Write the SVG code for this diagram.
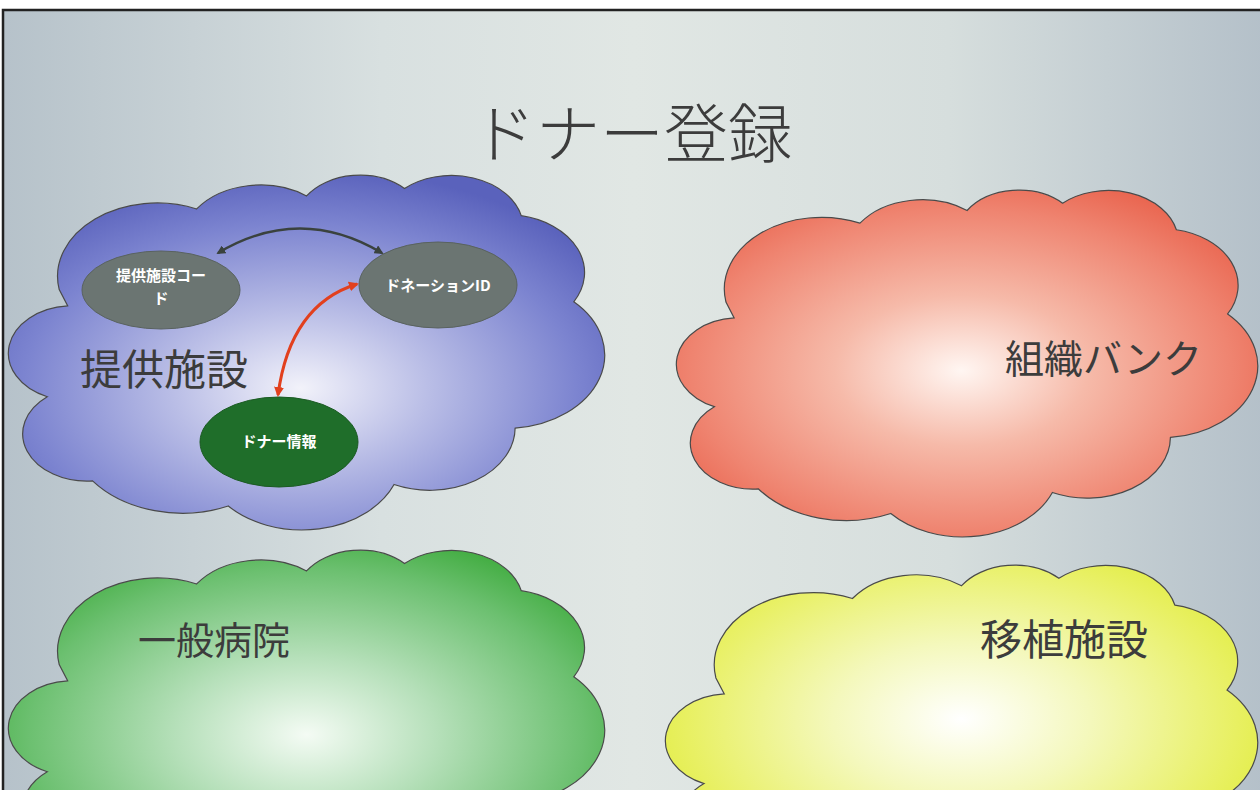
<svg xmlns="http://www.w3.org/2000/svg" width="1260" height="790" viewBox="0 0 1260 790">
  <defs>
    <linearGradient id="bg" x1="0" y1="0" x2="1" y2="0">
      <stop offset="0" stop-color="#b6c2ca"/>
      <stop offset="0.3" stop-color="#d8e0e0"/>
      <stop offset="0.5" stop-color="#e1e7e4"/>
      <stop offset="0.75" stop-color="#d6dedd"/>
      <stop offset="1" stop-color="#b4c0c9"/>
    </linearGradient>
    <radialGradient id="gBlue" cx="0.49" cy="0.6" r="0.62">
      <stop offset="0" stop-color="#f2f2fa"/>
      <stop offset="0.35" stop-color="#b9bde6"/>
      <stop offset="0.75" stop-color="#7c84d0"/>
      <stop offset="1" stop-color="#5a62bc"/>
    </radialGradient>
    <radialGradient id="gRed" cx="0.49" cy="0.52" r="0.62">
      <stop offset="0" stop-color="#fff6f2"/>
      <stop offset="0.35" stop-color="#f6baa9"/>
      <stop offset="0.75" stop-color="#ef8470"/>
      <stop offset="1" stop-color="#e85e48"/>
    </radialGradient>
    <radialGradient id="gGreen" cx="0.5" cy="0.52" r="0.62">
      <stop offset="0" stop-color="#f4fbf4"/>
      <stop offset="0.35" stop-color="#b6e0ba"/>
      <stop offset="0.75" stop-color="#6cc070"/>
      <stop offset="1" stop-color="#38a836"/>
    </radialGradient>
    <radialGradient id="gYellow" cx="0.5" cy="0.44" r="0.62">
      <stop offset="0" stop-color="#ffffff"/>
      <stop offset="0.35" stop-color="#f4f8bc"/>
      <stop offset="0.75" stop-color="#e8f062"/>
      <stop offset="1" stop-color="#dcea2c"/>
    </radialGradient>
    <marker id="arrDark" viewBox="0 0 10 10" refX="8" refY="5" markerWidth="9" markerHeight="9" markerUnits="userSpaceOnUse" orient="auto-start-reverse">
      <path d="M0,0 L10,5 L0,10 Z" fill="#3a423e"/>
    </marker>
    <marker id="arrRed" viewBox="0 0 10 10" refX="8" refY="5" markerWidth="10" markerHeight="10" markerUnits="userSpaceOnUse" orient="auto-start-reverse">
      <path d="M0,0 L10,5 L0,10 Z" fill="#e2401e"/>
    </marker>
    <clipPath id="frameClip">
      <rect x="3" y="10" width="1257" height="780"/>
    </clipPath>
  </defs>
  <style>
    .cloud path { stroke: #4a4a4a; stroke-width: 1.2; vector-effect: non-scaling-stroke; }
    .big { font-family: "Noto Sans CJK JP", "Noto Sans", sans-serif; fill: #3c3c3c; }
    .small { font-family: "Noto Sans CJK JP", "Noto Sans", sans-serif; font-size: 15px; font-weight: bold; fill: #ffffff; text-anchor: middle; }
    .ell-gray { fill: #6b7572; stroke: #59625f; stroke-width: 1; }
    .ell-green { fill: #1f6e2a; stroke: #1a5a22; stroke-width: 1; }
  </style>

  <rect x="0" y="0" width="1260" height="790" fill="#ffffff"/>
  <rect id="frame" x="3" y="10" width="1262" height="785" fill="url(#bg)" stroke="#222222" stroke-width="2.5"/>

  <g clip-path="url(#frameClip)">
    <g id="cloud-teikyo" class="cloud">
      <path d="M 9.03,33.26 A 15.63,21.27 0 0 1 30.58,9.85 A 12.35,16.82 0 0 1 47.81,6.08 A 10.10,13.76 0 0 1 63.17,3.90 A 11.24,15.27 0 0 1 81.47,11.79 A 12.35,16.84 0 0 1 89.71,36.80 A 15.68,21.34 0 0 1 80.51,73.45 A 13.39,18.21 0 0 1 61.53,89.80 A 15.63,21.33 0 0 1 35.54,96.03 A 17.87,24.41 0 0 1 14.26,88.74 A 10.09,13.70 0 0 1 7.16,64.32 A 10.06,13.76 0 0 1 10.35,37.95 Z" transform="translate(1.62,175) scale(6.378,3.447)" fill="url(#gBlue)"/>
      <text class="big" x="80" y="385" font-size="42">提供施設</text>
    </g>
    <g id="cloud-soshiki" class="cloud">
      <path d="M 9.03,33.26 A 15.63,21.27 0 0 1 30.58,9.85 A 12.35,16.82 0 0 1 47.81,6.08 A 10.10,13.76 0 0 1 63.17,3.90 A 11.24,15.27 0 0 1 81.47,11.79 A 12.35,16.84 0 0 1 89.71,36.80 A 15.68,21.34 0 0 1 80.51,73.45 A 13.39,18.21 0 0 1 61.53,89.80 A 15.63,21.33 0 0 1 35.54,96.03 A 17.87,24.41 0 0 1 14.26,88.74 A 10.09,13.70 0 0 1 7.16,64.32 A 10.06,13.76 0 0 1 10.35,37.95 Z" transform="translate(669.8,190) scale(6.218,3.369)" fill="url(#gRed)"/>
      <text class="big" x="1005" y="373" font-size="39">組織バンク</text>
    </g>
    <g id="cloud-ippan" class="cloud">
      <path d="M 9.03,33.26 A 15.63,21.27 0 0 1 30.58,9.85 A 12.35,16.82 0 0 1 47.81,6.08 A 10.10,13.76 0 0 1 63.17,3.90 A 11.24,15.27 0 0 1 81.47,11.79 A 12.35,16.84 0 0 1 89.71,36.80 A 15.68,21.34 0 0 1 80.51,73.45 A 13.39,18.21 0 0 1 61.53,89.80 A 15.63,21.33 0 0 1 35.54,96.03 A 17.87,24.41 0 0 1 14.26,88.74 A 10.09,13.70 0 0 1 7.16,64.32 A 10.06,13.76 0 0 1 10.35,37.95 Z" transform="translate(1.62,550) scale(6.378,3.447)" fill="url(#gGreen)"/>
      <text class="big" x="138" y="654" font-size="38">一般病院</text>
    </g>
    <g id="cloud-ishoku" class="cloud">
      <path d="M 9.03,33.26 A 15.63,21.27 0 0 1 30.58,9.85 A 12.35,16.82 0 0 1 47.81,6.08 A 10.10,13.76 0 0 1 63.17,3.90 A 11.24,15.27 0 0 1 81.47,11.79 A 12.35,16.84 0 0 1 89.71,36.80 A 15.68,21.34 0 0 1 80.51,73.45 A 13.39,18.21 0 0 1 61.53,89.80 A 15.63,21.33 0 0 1 35.54,96.03 A 17.87,24.41 0 0 1 14.26,88.74 A 10.09,13.70 0 0 1 7.16,64.32 A 10.06,13.76 0 0 1 10.35,37.95 Z" transform="translate(658.7,565) scale(6.335,3.398)" fill="url(#gYellow)"/>
      <text class="big" x="980" y="655" font-size="42">移植施設</text>
    </g>
  </g>

  <g id="title">
    <text class="big" x="632" y="157" font-size="64" text-anchor="middle" font-weight="300">ドナー登録</text>
  </g>

  <g id="node-code">
    <ellipse class="ell-gray" cx="161" cy="290" rx="79" ry="39"/>
    <text class="small" x="161" y="281">提供施設コー</text>
    <text class="small" x="161" y="304">ド</text>
  </g>
  <g id="node-donation-id">
    <ellipse class="ell-gray" cx="438" cy="285" rx="79" ry="43"/>
    <text class="small" x="438" y="291">ドネーションID</text>
  </g>
  <g id="node-donor-info">
    <ellipse class="ell-green" cx="279" cy="442" rx="79" ry="45"/>
    <text class="small" x="279" y="447">ドナー情報</text>
  </g>

  <g id="connectors" fill="none">
    <path d="M 218,253 Q 300,204 382,253" stroke="#3a423e" stroke-width="2.5" marker-start="url(#arrDark)" marker-end="url(#arrDark)"/>
    <path d="M 357,284 Q 290,305 278,395" stroke="#e2401e" stroke-width="3" marker-start="url(#arrRed)" marker-end="url(#arrRed)"/>
  </g>
</svg>
